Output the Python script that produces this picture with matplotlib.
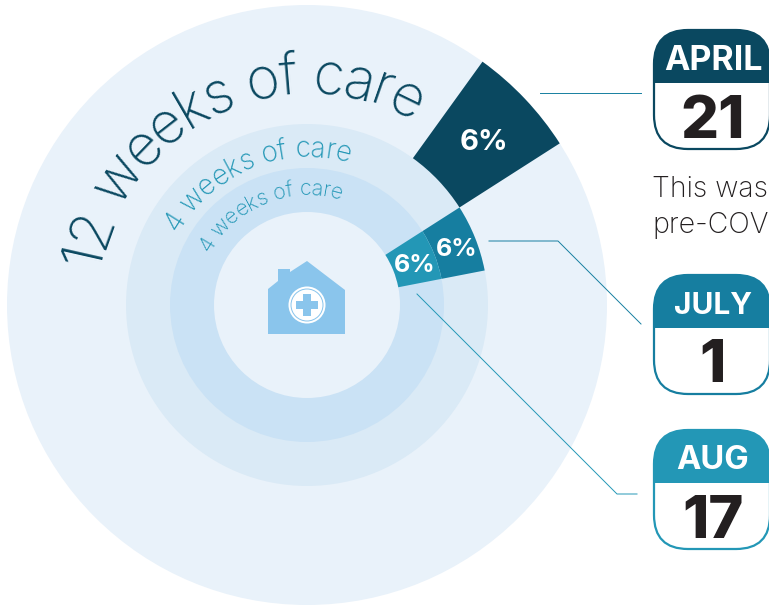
import matplotlib
matplotlib.use("Agg")
import numpy as np
import matplotlib.pyplot as plt
from matplotlib.font_manager import FontProperties
from matplotlib.patches import Circle, FancyBboxPatch, Polygon, Rectangle, Wedge
from matplotlib.textpath import text_to_path

W, H = 769, 605
CX, CY = 307, H - 305

# Chart values
ring_names = ["12 weeks of care", "4 weeks of care", "4 weeks of care"]
ring_outer = [300, 181, 137]
ring_inner = [181, 137, 93]
ring_share = [6, 6, 6]
ring_start = [32.6, 11, 11]
share_labels = ["6%", "6%", "6%"]
months = ["APRIL", "JULY", "AUG"]
days = ["21", "1", "17"]

DARK = "#0A4860"
MID = "#167EA0"
LIGHT = "#2397B6"
wedge_colors = [DARK, MID, LIGHT]
FONT = "Inter"

fig = plt.figure(figsize=(W / 100, H / 100), dpi=100)
ax = fig.add_axes([0, 0, 1, 1])
ax.set_xlim(0, W)
ax.set_ylim(0, H)
ax.axis("off")


def curved(text, r, a_start, a_end, size, color, weight):
    # lay the characters along an arc, stretched to fit the angle span
    fp = FontProperties(family=FONT, size=size, weight=weight)
    widths = [text_to_path.get_text_width_height_descent(text[:i], fp, False)[0] if i else 0
              for i in range(len(text) + 1)]
    total = widths[-1]
    for i, ch in enumerate(text):
        mid = (widths[i] + widths[i + 1]) / 2 / total
        ang = a_start + (a_end - a_start) * mid
        rad = np.radians(ang)
        ax.text(CX + r * np.cos(rad), CY + r * np.sin(rad), ch, fontproperties=fp, color=color,
                rotation=ang - 90, rotation_mode="anchor", ha="center", va="baseline")


# rings
ax.add_patch(Circle((CX, CY), ring_outer[0], fc="#E9F2FA", ec="none"))
ax.add_patch(Circle((CX, CY), ring_outer[1], fc="#DAEAF6", ec="none"))
ax.add_patch(Circle((CX, CY), ring_outer[2], fc="#CAE2F5", ec="none"))
ax.add_patch(Circle((CX, CY), ring_inner[2], fc="#E9F2FA", ec="none"))

# 6% wedges
label_xy = [(484, 142), (457, 249), (415, 266)]
label_size = [21, 18, 18]
for i in range(3):
    sweep = ring_share[i] * 3.6
    ax.add_patch(Wedge((CX, CY), ring_outer[i], ring_start[i], ring_start[i] + sweep,
                       width=ring_outer[i] - ring_inner[i], fc=wedge_colors[i], ec="none"))
    ax.text(label_xy[i][0], H - label_xy[i][1], share_labels[i], color="white", family=FONT,
            weight="bold", size=label_size[i], ha="center", va="center")

curved(ring_names[0], 212, 170, 60, 41, DARK, "light")
curved(ring_names[1], 148, 151, 73.5, 20, LIGHT, "light")
curved(ring_names[2], 110, 152, 72, 15.5, LIGHT, "light")

# house icon
house = [(268, 334), (345, 334), (345, 290), (307, 261), (290, 272), (290, 269), (278, 269),
         (278, 281), (268, 289)]
ax.add_patch(Polygon([(x, H - y) for x, y in house], fc="#8AC5EC", ec="none"))
hc = (307, H - 305)
ax.add_patch(Circle(hc, 18.5, fc="white", ec="none"))
ax.add_patch(Circle(hc, 16.5, fc="#8AC5EC", ec="none"))
ax.add_patch(Circle(hc, 15.5, fc="white", ec="none"))
ax.add_patch(Rectangle((hc[0] - 11, hc[1] - 3.8), 22, 7.6, fc="#8AC5EC", ec="none"))
ax.add_patch(Rectangle((hc[0] - 3.8, hc[1] - 11), 7.6, 22, fc="#8AC5EC", ec="none"))

# connector lines
ax.plot([540, 641], [H - 93, H - 93], color=MID, lw=0.7)
ax.plot([489, 558, 641], [H - 241, H - 241, H - 324], color=MID, lw=0.7)
ax.plot([417, 617, 637], [H - 294, H - 494, H - 494], color=LIGHT, lw=0.7)

# calendar cards
card_top = [30, 275, 430]
head_bottom = [83, 328, 483]
month_size = [24.5, 21.5, 23.5]
for i in range(3):
    top, color = card_top[i], wedge_colors[i]
    box = FancyBboxPatch((654, H - top - 119), 116, 119, boxstyle="round,pad=0,rounding_size=34",
                         fc="white", ec=color, lw=1.6, zorder=3)
    ax.add_patch(box)
    head = Rectangle((650, H - head_bottom[i]), 125, head_bottom[i] - top + 3, fc=color, ec="none", zorder=4)
    ax.add_patch(head)
    head.set_clip_path(box)
    ax.text(713, H - (top + head_bottom[i]) / 2 - 4, months[i], color="white", family=FONT, weight="bold",
            size=month_size[i], ha="center", va="center", zorder=5)
    ax.text(713, H - head_bottom[i] - 39, days[i], color="#231F20", family=FONT, weight="extra bold",
            size=43, ha="center", va="center", zorder=5)

ax.text(652, H - 197, "This was", color="#231F20", family=FONT, weight="light", size=20.5, va="baseline")
ax.text(652, H - 233, "pre-COV", color="#231F20", family=FONT, weight="light", size=20.5, va="baseline")

fig.savefig("out.png", dpi=100)
